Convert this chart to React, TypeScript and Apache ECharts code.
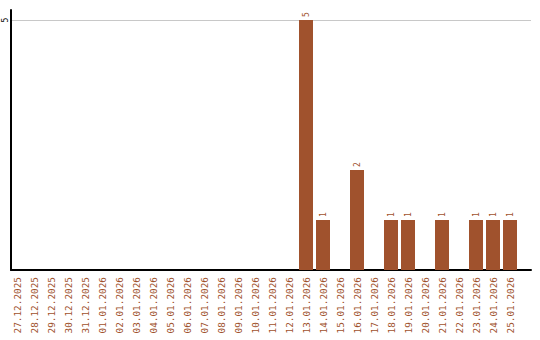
import React, { useEffect, useRef } from "react";
import * as echarts from "echarts";

const categories = [
  "27.12.2025", "28.12.2025", "29.12.2025", "30.12.2025", "31.12.2025",
  "01.01.2026", "02.01.2026", "03.01.2026", "04.01.2026", "05.01.2026",
  "06.01.2026", "07.01.2026", "08.01.2026", "09.01.2026", "10.01.2026",
  "11.01.2026", "12.01.2026", "13.01.2026", "14.01.2026", "15.01.2026",
  "16.01.2026", "17.01.2026", "18.01.2026", "19.01.2026", "20.01.2026",
  "21.01.2026", "22.01.2026", "23.01.2026", "24.01.2026", "25.01.2026",
];
const values = [
  0, 0, 0, 0, 0, 0, 0, 0, 0, 0,
  0, 0, 0, 0, 0, 0, 0, 5, 1, 0,
  2, 0, 1, 1, 0, 1, 0, 1, 1, 1,
];
const yTicks = [5];

const BROWN = "#A0522D";

export default function App() {
  const ref = useRef<HTMLDivElement>(null);
  useEffect(() => {
    if (!ref.current) return;
    const chart = echarts.init(ref.current, null, { renderer: "svg" });
    chart.setOption({
      animation: false,
      backgroundColor: "#fff",
      grid: [
        { left: 11, width: 520, top: 10, height: 260, outerBoundsMode: "none" },
        { left: 11, width: 520, top: 20, height: 250, outerBoundsMode: "none" },
        { left: 8.5, width: 510, top: 20, height: 250, outerBoundsMode: "none" },
      ],
      xAxis: [
        {
          gridIndex: 0, type: "value", min: 0, max: 1,
          axisLine: { show: true, lineStyle: { color: "#000", width: 2 } },
          axisTick: { show: false }, axisLabel: { show: false }, splitLine: { show: false },
        },
        {
          gridIndex: 1, type: "value", min: 0, max: 1, show: false,
        },
        {
          gridIndex: 2, type: "category", data: categories,
          axisLine: { show: false }, axisTick: { show: false },
          axisLabel: {
            interval: 0, rotate: 90, margin: 7, color: BROWN,
            fontFamily: "DejaVu Sans Mono", fontSize: 9.4,
          },
        },
      ],
      yAxis: [
        {
          gridIndex: 0, type: "value", min: 0, max: 5.2,
          axisLine: { show: true, lineStyle: { color: "#000", width: 2 } },
          axisTick: { show: false },
          axisLabel: { show: false },
          splitLine: { show: false },
        },
        {
          gridIndex: 1, type: "value", min: 0, max: 5, interval: 5,
          axisLine: { show: false }, axisTick: { show: false },
          axisLabel: { show: false },
          splitLine: {
            show: true,
            lineStyle: { color: "#c8c8c8", width: 1 },
          },
        },
        {
          gridIndex: 2, type: "value", min: 0, max: 5, show: false,
        },
      ],
      series: [
        {
          type: "bar", xAxisIndex: 2, yAxisIndex: 2,
          data: values.map((v) => (v === 0 ? null : v)),
          barWidth: 14,
          itemStyle: { color: BROWN },
          label: {
            show: true, position: "top", rotate: 90, distance: 3,
            align: "left", verticalAlign: "middle",
            color: BROWN, fontSize: 8, fontFamily: "DejaVu Sans Mono",
          },
        },
      ],
    });
    const tickLabels = yTicks.map((t) => {
      const y = Number(chart.convertToPixel({ yAxisIndex: 1 } as any, t));
      return {
        type: "text",
        x: 5,
        y: isFinite(y) ? y : 20,
        rotation: Math.PI / 2,
        z: 100,
        style: {
          text: String(t),
          fill: "#000",
          fontSize: 8,
          fontFamily: "DejaVu Sans Mono",
          align: "center",
          verticalAlign: "middle",
        },
      };
    });
    chart.setOption({ graphic: tickLabels });
    return () => chart.dispose();
  }, []);
  return (
    <div
      ref={ref}
      style={{ position: "absolute", left: 0, top: 0, width: 540, height: 340 }}
    />
  );
}
